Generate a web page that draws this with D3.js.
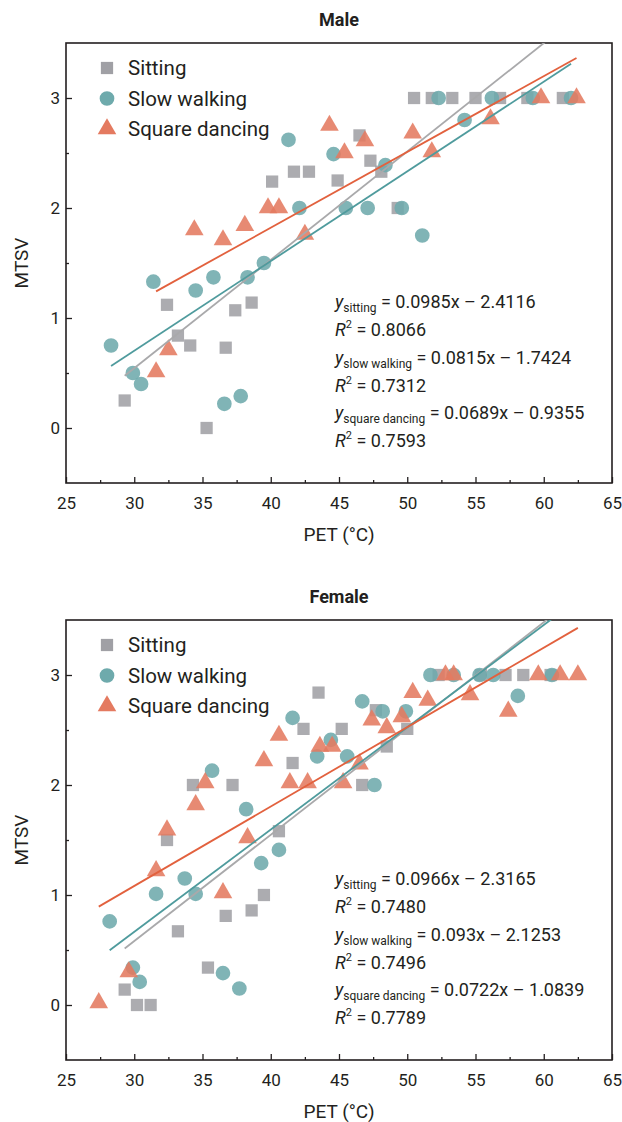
<!DOCTYPE html>
<html>
<head>
<meta charset="utf-8">
<script src="https://cdn.jsdelivr.net/npm/d3@7"></script>
<style>
  body { margin: 0; background: #fff; }
  text { font-family: Roboto, "DejaVu Sans", sans-serif; fill: #231f20; }
</style>
</head>
<body>
<div id="chart"></div>
<script>
// PET (x) and MTSV (y) readings per activity
const maleSitting = [
    [29.3, 0.25], [32.4, 1.12], [33.2, 0.84], [34.1, 0.75], [35.3, 0.0], [36.7, 0.73],
    [37.4, 1.07], [38.6, 1.14], [40.1, 2.24], [41.7, 2.33], [42.8, 2.33], [44.9, 2.25],
    [46.5, 2.66], [47.3, 2.43], [48.1, 2.33], [49.3, 2.0], [50.5, 3], [51.8, 3],
    [53.3, 3], [55.0, 3], [56.8, 3], [58.8, 3], [61.4, 3]
]
const maleWalking = [
    [28.3, 0.75], [29.9, 0.5], [30.5, 0.4], [31.4, 1.33], [34.5, 1.25], [35.8, 1.37],
    [36.6, 0.22], [37.8, 0.29], [38.3, 1.37], [39.5, 1.5], [41.3, 2.62], [42.1, 2.0],
    [44.6, 2.49], [45.5, 2.0], [47.1, 2.0], [48.4, 2.39], [49.6, 2.0], [51.1, 1.75],
    [52.3, 3], [54.2, 2.8], [56.2, 3], [59.2, 3], [62.0, 3]
]
const maleDancing = [
    [31.6, 0.51], [32.5, 0.71], [34.4, 1.8], [36.5, 1.71], [38.1, 1.84], [39.8, 2.0],
    [40.6, 2.0], [42.5, 1.76], [44.3, 2.75], [45.4, 2.5], [46.9, 2.61], [50.4, 2.68],
    [51.8, 2.51], [56.1, 2.81], [59.8, 3], [62.4, 3]
]

const femaleSitting = [
    [29.3, 0.14], [30.2, 0.0], [31.2, 0.0], [32.4, 1.5], [33.2, 0.67], [34.3, 2.0],
    [35.4, 0.34], [36.7, 0.81], [37.2, 2.0], [38.6, 0.86], [39.5, 1.0], [40.6, 1.58],
    [41.6, 2.2], [42.4, 2.51], [43.5, 2.84], [45.2, 2.51], [46.7, 2.0], [47.7, 2.68],
    [48.5, 2.35], [50.0, 2.51], [52.3, 3], [55.4, 3], [57.2, 3], [58.5, 3], [60.5, 3]
]
const femaleWalking = [
    [28.2, 0.76], [29.9, 0.34], [30.4, 0.21], [31.6, 1.01], [33.7, 1.15], [34.5, 1.01],
    [35.7, 2.13], [36.5, 0.29], [37.7, 0.15], [38.2, 1.78], [39.3, 1.29], [40.6, 1.41],
    [41.6, 2.61], [43.4, 2.26], [44.4, 2.41], [45.6, 2.26], [46.7, 2.76], [47.6, 2.0],
    [48.2, 2.67], [49.9, 2.67], [51.7, 3], [53.4, 3], [55.3, 3], [56.3, 3],
    [58.1, 2.81], [60.6, 3]
]
const femaleDancing = [
    [27.4, 0.02], [29.6, 0.3], [31.6, 1.22], [32.4, 1.59], [34.5, 1.82], [35.2, 2.02],
    [36.5, 1.02], [38.3, 1.52], [39.5, 2.22], [40.6, 2.45], [41.4, 2.02], [42.7, 2.02],
    [43.6, 2.35], [44.5, 2.35], [45.3, 2.02], [46.5, 2.19], [47.4, 2.59], [48.5, 2.52],
    [49.6, 2.62], [50.4, 2.84], [51.5, 2.77], [52.8, 3], [53.4, 3], [54.6, 2.82],
    [57.4, 2.67], [59.6, 3], [61.2, 3], [62.5, 3]
]

// Regression fits printed in the figure: [slope, intercept, R2]
const maleFits = [[0.0985, -2.4116, '0.8066'], [0.0815, -1.7424, '0.7312'], [0.0689, -0.9355, '0.7593']]
const femaleFits = [[0.0966, -2.3165, '0.7480'], [0.093, -2.1253, '0.7496'], [0.0722, -1.0839, '0.7789']]

const seriesNames = ['Sitting', 'Slow walking', 'Square dancing']
const fitLabels = ['sitting', 'slow walking', 'square dancing']
const xTicks = [25, 30, 35, 40, 45, 50, 55, 60, 65]
const yTicks = [0, 1, 2, 3]

const WIDTH = 622
const HEIGHT = 1122
const LEFT = 66
const RIGHT = 612

const MARKER_FILL = ['#a0a0a5', '#6eaaac', '#e47a60']
const LINE_COLOR = ['#a9a9ab', '#4f9b9d', '#e2613e']

const svg = d3.select('#chart')
    .append('svg')
    .attr('width', WIDTH)
    .attr('height', HEIGHT)

const x = d3.scaleLinear().domain([25, 65]).range([LEFT, RIGHT])

function drawPanel(top, bottom, title, series, fits, id) {
    const y = d3.scaleLinear().domain([-0.5, 3.5]).range([bottom, top])
    const g = svg.append('g')

    g.append('clipPath').attr('id', id)
        .append('rect')
        .attr('x', LEFT).attr('y', top)
        .attr('width', RIGHT - LEFT).attr('height', bottom - top)

    // Title
    g.append('text')
        .attr('x', (LEFT + RIGHT) / 2).attr('y', top - 17)
        .attr('text-anchor', 'middle')
        .attr('font-size', 18).attr('font-weight', 'bold')
        .text(title)

    // Axes with inward ticks
    const xAxis = d3.axisBottom(x)
        .tickValues(d3.range(25, 65.1, 2.5))
        .tickSize(-6).tickPadding(12)
        .tickFormat(d => xTicks.includes(d) ? d : '')
    const gx = g.append('g')
        .attr('transform', `translate(0,${bottom})`)
        .call(xAxis)
    gx.selectAll('.tick line')
        .attr('y2', d => xTicks.includes(d) ? -6 : -3)
    gx.selectAll('text').attr('font-size', 17).attr('dy', '0.85em')

    const yAxis = d3.axisLeft(y)
        .tickValues(d3.range(0, 3.1, 0.5))
        .tickSize(-6).tickPadding(6)
        .tickFormat(d => yTicks.includes(d) ? d : '')
    const gy = g.append('g')
        .attr('transform', `translate(${LEFT},0)`)
        .call(yAxis)
    gy.selectAll('.tick line')
        .attr('x2', d => yTicks.includes(d) ? 6 : 3)
    gy.selectAll('text').attr('font-size', 17)

    g.selectAll('.domain').remove()
    g.selectAll('.tick line').attr('stroke', '#231f20').attr('stroke-width', 1.3)
    g.selectAll('.tick text').style('fill', '#231f20')

    // Frame
    g.append('rect')
        .attr('x', LEFT).attr('y', top)
        .attr('width', RIGHT - LEFT).attr('height', bottom - top)
        .attr('fill', 'none')
        .attr('stroke', '#231f20')
        .attr('stroke-width', 1.6)

    // Axis titles
    g.append('text')
        .attr('x', (LEFT + RIGHT) / 2).attr('y', bottom + 58)
        .attr('text-anchor', 'middle')
        .attr('font-size', 19)
        .text('PET (°C)')
    g.append('text')
        .attr('transform', `translate(28,${(top + bottom) / 2}) rotate(-90)`)
        .attr('text-anchor', 'middle')
        .attr('font-size', 19)
        .text('MTSV')

    const plot = g.append('g').attr('clip-path', `url(#${id})`)

    // Markers
    const shapes = [d3.symbolSquare, d3.symbolCircle, d3.symbolTriangle]
    const sizes = [150, 170, 150]
    series.forEach((pts, i) => {
        plot.append('g')
            .selectAll('path')
            .data(pts)
            .enter()
            .append('path')
            .attr('transform', d => `translate(${x(d[0])},${y(d[1])})`)
            .attr('d', d3.symbol().type(shapes[i]).size(sizes[i]))
            .attr('fill', MARKER_FILL[i])
            .attr('fill-opacity', 0.88)
    })

    // Regression lines, spanning each series' PET range
    fits.forEach((f, i) => {
        const ext = d3.extent(series[i], d => d[0])
        plot.append('path')
            .datum(ext)
            .attr('d', d3.line().x(v => x(v)).y(v => y(f[0] * v + f[1])))
            .attr('stroke', LINE_COLOR[i])
            .attr('stroke-width', 1.8)
            .attr('fill', 'none')
    })

    // Legend
    const legend = g.append('g')
    seriesNames.forEach((name, i) => {
        const ly = top + 25 + i * 30.5
        legend.append('path')
            .attr('transform', `translate(107,${ly})`)
            .attr('d', d3.symbol().type(shapes[i]).size(sizes[i]))
            .attr('fill', MARKER_FILL[i])
        legend.append('text')
            .attr('x', 128).attr('y', ly + 7)
            .attr('font-size', 20.5)
            .text(name)
    })

    // Fit equations
    const eq = g.append('g')
    fits.forEach((f, i) => {
        const by = top + 265 + i * 55.5
        const t1 = eq.append('text').attr('x', 335).attr('y', by).attr('font-size', 18)
        t1.append('tspan').attr('font-style', 'italic').text('y')
        t1.append('tspan').attr('font-size', 12).attr('dy', 4).text(fitLabels[i])
        t1.append('tspan').attr('dy', -4)
            .text(` = ${f[0]}x – ${Math.abs(f[1]).toFixed(4)}`)

        const t2 = eq.append('text').attr('x', 335).attr('y', by + 28).attr('font-size', 18)
        t2.append('tspan').attr('font-style', 'italic').text('R')
        t2.append('tspan').attr('font-size', 11).attr('dy', -8).text('2')
        t2.append('tspan').attr('dy', 8).text(` = ${f[2]}`)
    })
}

drawPanel(43, 483, 'Male', [maleSitting, maleWalking, maleDancing], maleFits, 'clip-male')
drawPanel(620, 1060, 'Female', [femaleSitting, femaleWalking, femaleDancing], femaleFits, 'clip-female')
</script>
</body>
</html>
